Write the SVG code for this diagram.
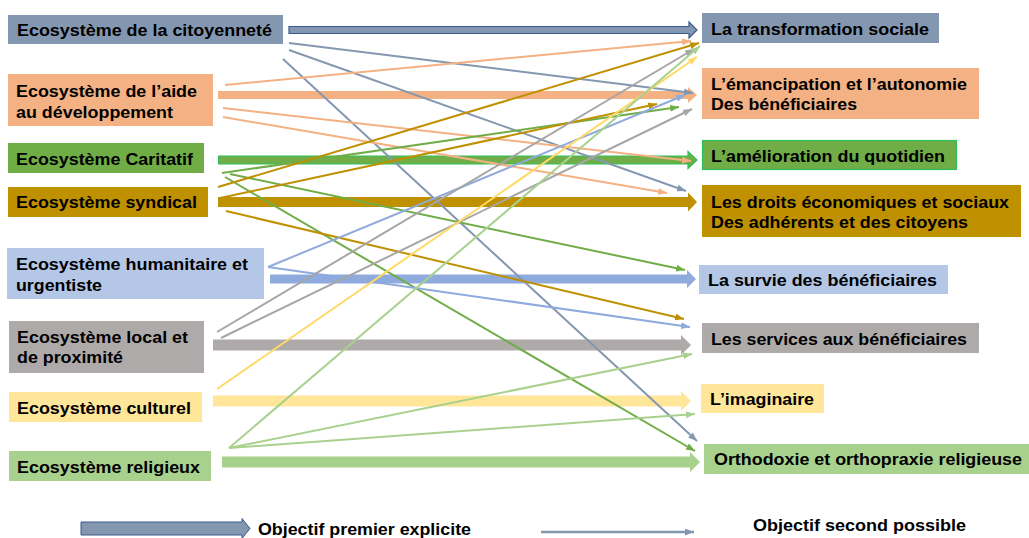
<svg xmlns="http://www.w3.org/2000/svg" width="1029" height="538" viewBox="0 0 1029 538">
<style>
text{font-family:"Liberation Sans",Arial,sans-serif;font-weight:bold;font-size:16px;fill:#000}
.lg{font-size:16px}
.thin{fill:none;stroke-width:2}
</style>
<defs>
<marker id="mCit" markerUnits="userSpaceOnUse" markerWidth="9" markerHeight="7" refX="9" refY="3.5" orient="auto"><path d="M0,0 L9,3.5 L0,7 z" fill="#8497B0"/></marker>
<marker id="mAid" markerUnits="userSpaceOnUse" markerWidth="9" markerHeight="7" refX="9" refY="3.5" orient="auto"><path d="M0,0 L9,3.5 L0,7 z" fill="#F4B183"/></marker>
<marker id="mCar" markerUnits="userSpaceOnUse" markerWidth="9" markerHeight="7" refX="9" refY="3.5" orient="auto"><path d="M0,0 L9,3.5 L0,7 z" fill="#70AD47"/></marker>
<marker id="mSyn" markerUnits="userSpaceOnUse" markerWidth="9" markerHeight="7" refX="9" refY="3.5" orient="auto"><path d="M0,0 L9,3.5 L0,7 z" fill="#BF9000"/></marker>
<marker id="mHum" markerUnits="userSpaceOnUse" markerWidth="9" markerHeight="7" refX="9" refY="3.5" orient="auto"><path d="M0,0 L9,3.5 L0,7 z" fill="#8FAADC"/></marker>
<marker id="mLoc" markerUnits="userSpaceOnUse" markerWidth="9" markerHeight="7" refX="9" refY="3.5" orient="auto"><path d="M0,0 L9,3.5 L0,7 z" fill="#A6A6A6"/></marker>
<marker id="mCul" markerUnits="userSpaceOnUse" markerWidth="9" markerHeight="7" refX="9" refY="3.5" orient="auto"><path d="M0,0 L9,3.5 L0,7 z" fill="#FFD966"/></marker>
<marker id="mRel" markerUnits="userSpaceOnUse" markerWidth="9" markerHeight="7" refX="9" refY="3.5" orient="auto"><path d="M0,0 L9,3.5 L0,7 z" fill="#A9D18E"/></marker>
</defs>

<rect width="1029" height="538" fill="#FFFFFF"/>

<!-- left nodes -->
<g id="src-citoyennete"><rect x="8" y="15" width="275" height="29" fill="#8497B0"/><text x="17" y="36" textLength="255" lengthAdjust="spacingAndGlyphs">Ecosystème de la citoyenneté</text></g>
<g id="src-aide"><rect x="8" y="74" width="205" height="52" fill="#F4B183"/><text x="16" y="97" textLength="181" lengthAdjust="spacingAndGlyphs">Ecosystème de l’aide</text><text x="16" y="118" textLength="157" lengthAdjust="spacingAndGlyphs">au développement</text></g>
<g id="src-caritatif"><rect x="8" y="143" width="196" height="30" fill="#70AD47"/><text x="16" y="165" textLength="177" lengthAdjust="spacingAndGlyphs">Ecosystème Caritatif</text></g>
<g id="src-syndical"><rect x="8" y="187" width="200" height="30" fill="#BF9000"/><text x="16" y="208" textLength="181" lengthAdjust="spacingAndGlyphs">Ecosystème syndical</text></g>
<g id="src-humanitaire"><rect x="7" y="248" width="257" height="51" fill="#B4C7E7"/><text x="16" y="270" textLength="232" lengthAdjust="spacingAndGlyphs">Ecosystème humanitaire et</text><text x="16" y="291" textLength="86" lengthAdjust="spacingAndGlyphs">urgentiste</text></g>
<g id="src-local"><rect x="9" y="321" width="195" height="52" fill="#AEAAAA"/><text x="17" y="343" textLength="171" lengthAdjust="spacingAndGlyphs">Ecosystème local et</text><text x="17" y="363" textLength="106" lengthAdjust="spacingAndGlyphs">de proximité</text></g>
<g id="src-culturel"><rect x="9" y="392" width="193" height="30" fill="#FFE699"/><text x="17" y="414" textLength="174" lengthAdjust="spacingAndGlyphs">Ecosystème culturel</text></g>
<g id="src-religieux"><rect x="9" y="451" width="202" height="30" fill="#A9D18E"/><text x="17" y="473" textLength="183" lengthAdjust="spacingAndGlyphs">Ecosystème religieux</text></g>

<!-- right nodes -->
<g id="dst-transformation"><rect x="702" y="13" width="237" height="30" fill="#8497B0"/><text x="711" y="35" textLength="218" lengthAdjust="spacingAndGlyphs">La transformation sociale</text></g>
<g id="dst-emancipation"><rect x="702" y="68" width="277" height="51" fill="#F4B183"/><text x="711" y="90" textLength="256" lengthAdjust="spacingAndGlyphs">L’émancipation et l’autonomie</text><text x="711" y="110" textLength="146" lengthAdjust="spacingAndGlyphs">Des bénéficiaires</text></g>
<g id="dst-amelioration"><rect x="702.5" y="140.5" width="254" height="29" fill="#70AD47" stroke="#2EBF5A" stroke-width="1.2"/><text x="711" y="162" textLength="234" lengthAdjust="spacingAndGlyphs">L’amélioration du quotidien</text></g>
<g id="dst-droits"><rect x="702" y="185" width="319" height="52" fill="#BF9000"/><text x="711" y="208" textLength="298" lengthAdjust="spacingAndGlyphs">Les droits économiques et sociaux</text><text x="711" y="228" textLength="257" lengthAdjust="spacingAndGlyphs">Des adhérents et des citoyens</text></g>
<g id="dst-survie"><rect x="699" y="265" width="249" height="29" fill="#B4C7E7"/><text x="708" y="286" textLength="229" lengthAdjust="spacingAndGlyphs">La survie des bénéficiaires</text></g>
<g id="dst-services"><rect x="702" y="323" width="277" height="30" fill="#AEAAAA"/><text x="711" y="345" textLength="256" lengthAdjust="spacingAndGlyphs">Les services aux bénéficiaires</text></g>
<g id="dst-imaginaire"><rect x="701" y="384" width="123" height="29" fill="#FFE699"/><text x="710" y="405" textLength="104" lengthAdjust="spacingAndGlyphs">L’imaginaire</text></g>
<g id="dst-orthodoxie"><rect x="704" y="444" width="325" height="30" fill="#A9D18E"/><text x="714" y="465" textLength="308" lengthAdjust="spacingAndGlyphs">Orthodoxie et orthopraxie religieuse</text></g>

<g id="connectors">
<!-- primary (thick) arrows -->
<polygon points="289,26.5 689,26.5 689,22 697,30 689,38 689,33.5 289,33.5" fill="#8497B0" stroke="#3A5A8F" stroke-width="1.2"/>
<polygon points="218,91 688,91 688,87 697,95 688,103 688,99 218,99" fill="#F4B183"/>
<polygon points="218.5,156 688,156 688,151.5 697,160 688,168.5 688,164 218.5,164" fill="#70AD47" stroke="#2EBF5A" stroke-width="1.2"/>
<polygon points="218,197 688,197 688,192.5 697,202 688,211.5 688,207 218,207" fill="#BF9000"/>
<polygon points="270,274.5 687,274.5 687,270 696,279 687,288 687,283.5 270,283.5" fill="#8FAADC"/>
<polygon points="213,339.5 681,339.5 681,335 691,345 681,355 681,350.5 213,350.5" fill="#AEAAAA"/>
<polygon points="213,395.5 681,395.5 681,391 691,401 681,411 681,406.5 213,406.5" fill="#FFE699"/>
<polygon points="222,456.5 690,456.5 690,452 700,462 690,472 690,467.5 222,467.5" fill="#A9D18E"/>

<!-- secondary (thin) arrows -->
<g class="thin" stroke="#8497B0" marker-end="url(#mCit)">
<line x1="289" y1="43" x2="693" y2="93"/>
<line x1="289" y1="50" x2="686" y2="191"/>
<line x1="283" y1="59" x2="697" y2="441"/>
</g>
<g class="thin" stroke="#F4B183" marker-end="url(#mAid)">
<line x1="225" y1="85" x2="691" y2="41"/>
<line x1="223" y1="108" x2="691" y2="161"/>
<line x1="223" y1="117" x2="667" y2="193"/>
</g>
<g class="thin" stroke="#70AD47" marker-end="url(#mCar)">
<line x1="222" y1="173" x2="679" y2="107"/>
<line x1="230" y1="174" x2="685" y2="270"/>
<line x1="225" y1="177" x2="695" y2="451"/>
</g>
<g class="thin" stroke="#BF9000" marker-end="url(#mSyn)">
<line x1="218" y1="187" x2="699" y2="43"/>
<line x1="220" y1="198" x2="657" y2="104"/>
<line x1="226" y1="211" x2="684" y2="319"/>
</g>
<g class="thin" stroke="#8FAADC" marker-end="url(#mHum)">
<line x1="268" y1="267" x2="685" y2="95"/>
<line x1="268" y1="267" x2="690" y2="327"/>
</g>
<g class="thin" stroke="#A6A6A6" marker-end="url(#mLoc)">
<line x1="217" y1="332" x2="694" y2="49"/>
<line x1="221" y1="338" x2="692" y2="109"/>
</g>
<g class="thin" stroke="#FFD966" marker-end="url(#mCul)">
<line x1="217" y1="389" x2="697" y2="57"/>
</g>
<g class="thin" stroke="#A9D18E" marker-end="url(#mRel)">
<line x1="229" y1="448" x2="700" y2="46"/>
<line x1="229" y1="448" x2="692" y2="354"/>
<line x1="229" y1="448" x2="695" y2="414"/>
</g>
</g>

<!-- legend -->
<g id="legend">
<polygon points="81,522 242,522 242,518.5 250,528.5 242,538.5 242,535 81,535" fill="#8497B0" stroke="#3A5A8F" stroke-width="1"/>
<text class="lg" x="258" y="535" textLength="213" lengthAdjust="spacingAndGlyphs">Objectif premier explicite</text>
<line x1="541" y1="532" x2="694" y2="532" stroke="#8497B0" stroke-width="2.5" marker-end="url(#mCit)"/>
<text class="lg" x="753" y="531" textLength="213" lengthAdjust="spacingAndGlyphs">Objectif second possible</text>
</g>
</svg>
